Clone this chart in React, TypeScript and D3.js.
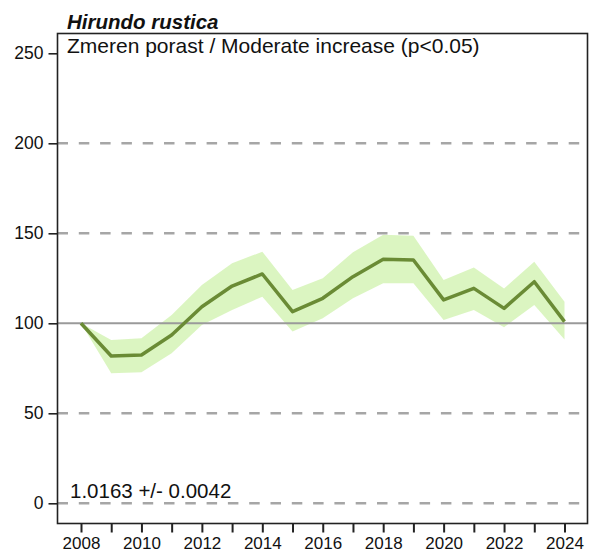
import React, { useEffect, useRef } from 'react';
import * as d3 from 'd3';

const years = [2008, 2009, 2010, 2011, 2012, 2013, 2014, 2015, 2016, 2017, 2018, 2019, 2020, 2021, 2022, 2023, 2024];
const index = [100, 81.8, 82.4, 93.5, 109.2, 120.7, 127.4, 106.5, 113.9, 125.9, 135.6, 135.2, 113, 119.4, 108.3, 123.1, 100.9];
const upper = [100, 90.7, 91.7, 104.6, 121.3, 133.3, 139.8, 118.5, 125, 139.5, 149.2, 148.7, 124, 131, 119.4, 134.2, 112];
const lower = [100, 72.2, 72.8, 83.3, 99, 107.4, 114.8, 95.4, 102.8, 113.9, 122.2, 122.2, 101.9, 107.4, 97.8, 110.2, 91];
const yTicks = [0, 50, 100, 150, 200, 250];
const dashedLevels = [0, 50, 150, 200];
const xLabels = [2008, 2010, 2012, 2014, 2016, 2018, 2020, 2022, 2024];

const title = 'Hirundo rustica';
const subtitle = 'Zmeren porast / Moderate increase (p<0.05)';
const slopeText = '1.0163 +/- 0.0042';

const TrendChart: React.FC<{ width?: number; height?: number }> = ({ width = 591, height = 556 }) => {
  const svgRef = useRef<SVGSVGElement>(null);

  useEffect(() => {
    const svg = d3.select(svgRef.current);
    svg.selectAll('*').remove();

    const box = { left: 57.5, right: 587.5, top: 33.5, bottom: 523.5 };
    const font = 'Liberation Sans, Arial, sans-serif';

    const x = d3.scaleLinear().domain([2008, 2024]).range([81, 564.5]);
    const y = d3.scaleLinear().domain([0, 250]).range([503.3, 53.3]);

    const pts = years.map((yr, i) => ({ yr, v: index[i], hi: upper[i], lo: lower[i] }));

    const g = svg.attr('width', width).attr('height', height).append('g');

    // confidence band
    const area = d3.area<any>()
      .x(d => x(d.yr))
      .y0(d => y(d.lo))
      .y1(d => y(d.hi));

    g.append('path')
      .datum(pts)
      .attr('fill', '#c8f0a0')
      .attr('fill-opacity', 0.65)
      .attr('d', area);

    // reference lines
    g.selectAll('.dash')
      .data(dashedLevels)
      .enter().append('line')
      .attr('x1', box.left)
      .attr('x2', box.right)
      .attr('y1', d => y(d))
      .attr('y2', d => y(d))
      .attr('stroke', '#a6a6a6')
      .attr('stroke-width', 2.5)
      .attr('stroke-dasharray', '10.5,10.8');

    g.append('line')
      .attr('x1', box.left)
      .attr('x2', box.right)
      .attr('y1', y(100))
      .attr('y2', y(100))
      .attr('stroke', '#9a9a9a')
      .attr('stroke-width', 2);

    // index line
    const line = d3.line<any>()
      .x(d => x(d.yr))
      .y(d => y(d.v));

    g.append('path')
      .datum(pts)
      .attr('fill', 'none')
      .attr('stroke', '#6a8b35')
      .attr('stroke-width', 3.5)
      .attr('stroke-linejoin', 'round')
      .attr('d', line);

    // frame
    g.append('rect')
      .attr('x', box.left)
      .attr('y', box.top)
      .attr('width', box.right - box.left)
      .attr('height', box.bottom - box.top)
      .attr('fill', 'none')
      .attr('stroke', '#222')
      .attr('stroke-width', 1.6);

    // Y axis
    const yAxis = g.append('g')
      .attr('transform', `translate(${box.left},0)`)
      .call(d3.axisLeft(y).tickValues(yTicks).tickSize(9).tickPadding(5).tickFormat(d3.format('d')));
    yAxis.select('.domain').remove();
    yAxis.selectAll('line').attr('stroke', '#222').attr('stroke-width', 1.6);
    yAxis.selectAll('text').attr('font-family', font).attr('font-size', 17.5).attr('fill', '#111');

    // X axis
    const xAxis = g.append('g')
      .attr('transform', `translate(0,${box.bottom})`)
      .call(d3.axisBottom(x).tickValues(years).tickSize(9).tickPadding(4).tickFormat(d => (xLabels.includes(d as number) ? String(d) : '')));
    xAxis.select('.domain').remove();
    xAxis.selectAll('line').attr('stroke', '#222').attr('stroke-width', 2);
    xAxis.selectAll('text').attr('font-family', font).attr('font-size', 17).attr('fill', '#111');

    // texts
    g.append('text')
      .attr('x', 67)
      .attr('y', 29)
      .attr('font-family', font)
      .attr('font-size', 20.5)
      .attr('font-weight', 'bold')
      .attr('font-style', 'italic')
      .attr('fill', '#111')
      .text(title);

    g.append('text')
      .attr('x', 67)
      .attr('y', 53)
      .attr('font-family', font)
      .attr('font-size', 21)
      .attr('fill', '#111')
      .text(subtitle);

    g.append('text')
      .attr('x', 70)
      .attr('y', 498)
      .attr('font-family', font)
      .attr('font-size', 20.5)
      .attr('fill', '#111')
      .text(slopeText);
  }, [width, height]);

  return <svg ref={svgRef} style={{ position: 'absolute', left: 0, top: 0, display: 'block' }}></svg>;
};

export default function App() {
  return <TrendChart />;
}
